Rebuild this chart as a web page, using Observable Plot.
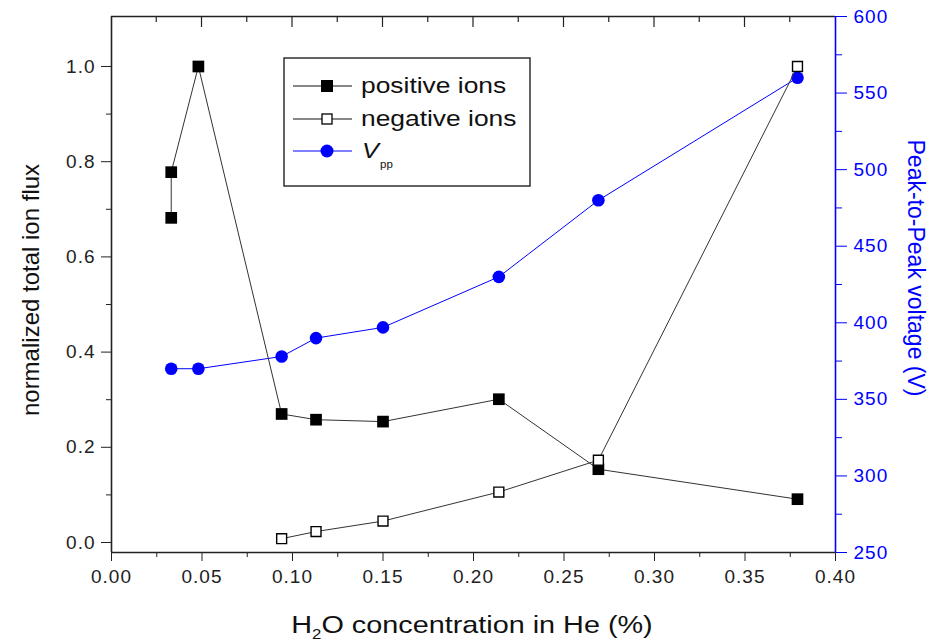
<!DOCTYPE html>
<html>
<head>
<meta charset="utf-8">
<script src="https://cdn.jsdelivr.net/npm/d3@7"></script>
<script src="https://cdn.jsdelivr.net/npm/@observablehq/plot@0.6"></script>
<style>
  html, body { margin: 0; padding: 0; background: #fff; }
  #chart svg { display: block; font-family: "Liberation Sans", Arial, sans-serif; }
  #chart svg [aria-label$="tick label"] text { letter-spacing: 1px; }
</style>
</head>
<body>
<div id="chart"></div>
<script>
// H2O concentration in He (%) and normalized total ion flux
const posX = [0.033, 0.033, 0.048, 0.094, 0.113, 0.150, 0.214, 0.269, 0.379];
const posY = [0.682, 0.778, 1.000, 0.270, 0.258, 0.254, 0.301, 0.154, 0.091];
const negX = [0.094, 0.113, 0.150, 0.214, 0.269, 0.379];
const negY = [0.008, 0.023, 0.045, 0.106, 0.173, 1.000];
// Peak-to-peak voltage (V)
const vppX = [0.033, 0.048, 0.094, 0.113, 0.150, 0.214, 0.269, 0.379];
const vppY = [370, 370, 378, 390, 397, 430, 480, 560];

const xMajor = [0, 0.05, 0.10, 0.15, 0.20, 0.25, 0.30, 0.35, 0.40];
const xMinor = [0.025, 0.075, 0.125, 0.175, 0.225, 0.275, 0.325, 0.375];
const yMajor = [0, 0.2, 0.4, 0.6, 0.8, 1.0];
const yMinor = [0.1, 0.3, 0.5, 0.7, 0.9];
const vMajor = [250, 300, 350, 400, 450, 500, 550, 600];
const vMinor = [275, 325, 375, 425, 475, 525, 575];

// left axis domain; the right (voltage) axis is mapped onto it linearly
const yDomain = [-0.021, 1.105];
const vDomain = [250, 600];
const v2y = d3.scaleLinear().domain(vDomain).range(yDomain);

const pos = posX.map((x, i) => ({x, y: posY[i]}));
const neg = negX.map((x, i) => ({x, y: negY[i]}));
const vpp = vppX.map((x, i) => ({x, y: v2y(vppY[i])}));

const W = 934, H = 644;
const mL = 111, mR = 99, mT = 16, mB = 92;
const BLUE = "#0000ff";
const INK = "#222";
const FS = 19;

const chart = Plot.plot({
  width: W, height: H,
  marginLeft: mL, marginRight: mR, marginTop: mT, marginBottom: mB,
  x: {domain: [0, 0.4]},
  y: {domain: yDomain},
  style: {fontFamily: "Liberation Sans, Arial, sans-serif", background: "#fff"},
  marks: [
    // bottom axis
    Plot.axisX({ticks: xMajor, tickSize: 9, tickPadding: 8, tickFormat: d3.format(".2f"), fontSize: FS, color: INK, label: null}),
    Plot.axisX({ticks: xMinor, tickSize: 5, tickFormat: () => "", color: INK, label: null}),
    // left axis
    Plot.axisY({ticks: yMajor, tickSize: 10, tickPadding: 6, tickFormat: d3.format(".1f"), fontSize: FS, color: INK, label: null}),
    Plot.axisY({ticks: yMinor, tickSize: 5, tickFormat: () => "", color: INK, label: null}),
    // right axis (voltage)
    Plot.axisY({anchor: "right", ticks: vMajor.map(v2y), tickSize: 11, tickPadding: 7,
      tickFormat: d => String(Math.round(v2y.invert(d))), fontSize: FS, color: BLUE, label: null}),
    Plot.axisY({anchor: "right", ticks: vMinor.map(v2y), tickSize: 6, tickFormat: () => "", color: BLUE, label: null}),
    // frame
    Plot.ruleY([yDomain[0]], {stroke: INK, strokeWidth: 1.6}),
    Plot.ruleY([yDomain[1]], {stroke: INK, strokeWidth: 1.6}),
    Plot.ruleX([0], {stroke: INK, strokeWidth: 1.6}),
    Plot.ruleX([0.4], {stroke: BLUE, strokeWidth: 1.6}),
    // Vpp series
    Plot.line(vpp, {x: "x", y: "y", stroke: BLUE, strokeWidth: 1}),
    Plot.dot(vpp, {x: "x", y: "y", r: 6.3, fill: BLUE, stroke: "none"}),
    // ion flux series
    Plot.line(pos, {x: "x", y: "y", stroke: "#333", strokeWidth: 1}),
    Plot.line(neg, {x: "x", y: "y", stroke: "#333", strokeWidth: 1}),
    Plot.dot(pos, {x: "x", y: "y", symbol: "square", r: 6.6, fill: "#000", stroke: "none"}),
    Plot.dot(neg, {x: "x", y: "y", symbol: "square", r: 5.6, fill: "#fff", stroke: "#000", strokeWidth: 1.4})
  ]
});

const svg = d3.select(chart);
const sx = chart.scale("x");

// inward ticks along the top edge
const topTicks = svg.append("g").attr("stroke", INK).attr("stroke-width", 1.2);
xMajor.slice(1, -1).forEach(v => {
  const px = sx.apply(v);
  topTicks.append("line").attr("x1", px).attr("x2", px).attr("y1", mT).attr("y2", mT + 11);
});
xMinor.forEach(v => {
  const px = sx.apply(v);
  topTicks.append("line").attr("x1", px).attr("x2", px).attr("y1", mT).attr("y2", mT + 6);
});

// axis titles
svg.append("text")
  .attr("transform", "translate(33,290) rotate(-90)")
  .attr("text-anchor", "middle").attr("dominant-baseline", "middle")
  .attr("font-size", 24).attr("fill", "#111")
  .text("normalized total ion flux");

svg.append("text")
  .attr("transform", "translate(914,268) rotate(90)")
  .attr("text-anchor", "middle").attr("dominant-baseline", "middle")
  .attr("font-size", 23).attr("fill", BLUE)
  .text("Peak-to-Peak voltage (V)");

const xt = svg.append("text")
  .attr("transform", "translate(472,633) scale(1.2,1)")
  .attr("text-anchor", "middle")
  .attr("font-size", 24).attr("fill", "#111");
xt.append("tspan").text("H");
xt.append("tspan").attr("font-size", 14).attr("dy", 6).text("2");
xt.append("tspan").attr("dy", -6).text("O concentration in He (%)");

// legend
const lg = svg.append("g");
lg.append("rect").attr("x", 284).attr("y", 58).attr("width", 246).attr("height", 128)
  .attr("fill", "#fff").attr("stroke", INK).attr("stroke-width", 1.4);
const rows = [
  {y: 86, stroke: "#111", kind: "fill", label: "positive ions"},
  {y: 119, stroke: "#111", kind: "open", label: "negative ions"},
  {y: 151, stroke: BLUE, kind: "circle", label: null}
];
rows.forEach(r => {
  lg.append("line").attr("x1", 293).attr("x2", 352).attr("y1", r.y).attr("y2", r.y)
    .attr("stroke", r.stroke).attr("stroke-width", 1.2);
  if (r.kind === "fill") {
    lg.append("rect").attr("x", 321).attr("y", r.y - 6).attr("width", 12).attr("height", 12).attr("fill", "#000");
  } else if (r.kind === "open") {
    lg.append("rect").attr("x", 322).attr("y", r.y - 5).attr("width", 10).attr("height", 10)
      .attr("fill", "#fff").attr("stroke", "#000").attr("stroke-width", 1.3);
  } else {
    lg.append("circle").attr("cx", 327).attr("cy", r.y).attr("r", 6.5).attr("fill", BLUE);
  }
  if (r.label) {
    lg.append("text")
      .attr("transform", `translate(361,${r.y + 7}) scale(1.2,1)`)
      .attr("text-anchor", "start")
      .attr("font-size", 22).attr("fill", "#111").text(r.label);
  }
});
const vt = lg.append("text")
  .attr("transform", "translate(362,158) scale(1.15,1)")
  .attr("text-anchor", "start").attr("font-size", 22).attr("fill", "#111");
vt.append("tspan").attr("font-style", "italic").text("V");
vt.append("tspan").attr("font-size", 10).attr("dy", 10).attr("dx", 1).text("pp");

document.getElementById("chart").appendChild(chart);
</script>
</body>
</html>
